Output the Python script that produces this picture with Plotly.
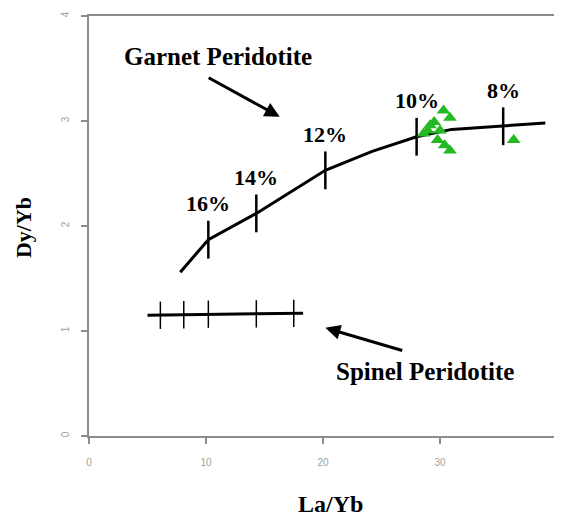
import plotly.graph_objects as go

# ---- data ----
garnet_x = [7.8, 10.2, 14.3, 20.2, 24.2, 28.0, 31.0, 35.4, 39.0]
garnet_y = [1.56, 1.87, 2.12, 2.53, 2.71, 2.85, 2.92, 2.95, 2.98]

melt_labels = ["16%", "14%", "12%", "10%", "8%"]
melt_x = [10.2, 14.3, 20.2, 28.0, 35.4]
melt_y = [1.87, 2.12, 2.53, 2.85, 2.95]

spinel_x = [5.0, 18.3]
spinel_y = [1.15, 1.17]
spinel_tick_x = [6.1, 8.1, 10.2, 14.3, 17.5]
spinel_tick_y = [1.15, 1.155, 1.16, 1.163, 1.167]

sample_x = [30.3, 30.85, 29.5, 28.95, 30.0, 28.6, 29.8, 30.4, 30.85, 29.15, 36.3]
sample_y = [3.10, 3.03, 2.99, 2.91, 2.91, 2.88, 2.82, 2.77, 2.72, 2.96, 2.82]

x_ticks = [0, 10, 20, 30, 40]
y_ticks = [0, 1, 2, 3, 4]

GARNET_TICK = 0.18
SPINEL_TICK = 0.13

def tick_segments(xs, ys, half):
    tx, ty = [], []
    for x, y in zip(xs, ys):
        tx += [x, x, None]
        ty += [y - half, y + half, None]
    return tx, ty

fig = go.Figure()

fig.add_trace(go.Scatter(x=garnet_x, y=garnet_y, mode="lines",
                         line=dict(color="black", width=3), showlegend=False,
                         hoverinfo="skip"))
gtx, gty = tick_segments(melt_x, melt_y, GARNET_TICK)
fig.add_trace(go.Scatter(x=gtx, y=gty, mode="lines",
                         line=dict(color="black", width=2.5), showlegend=False,
                         hoverinfo="skip"))

fig.add_trace(go.Scatter(x=spinel_x, y=spinel_y, mode="lines",
                         line=dict(color="black", width=3), showlegend=False,
                         hoverinfo="skip"))
stx, sty = tick_segments(spinel_tick_x, spinel_tick_y, SPINEL_TICK)
fig.add_trace(go.Scatter(x=stx, y=sty, mode="lines",
                         line=dict(color="black", width=1.5), showlegend=False,
                         hoverinfo="skip"))

fig.add_trace(go.Scatter(x=sample_x, y=sample_y, mode="markers",
                         marker=dict(symbol="triangle-up", size=12, color="#22b922",
                                     line=dict(width=0)),
                         showlegend=False))

serif = "Liberation Serif, Times New Roman, serif"
bold = dict(family=serif, size=22, color="black")
label_font = dict(family=serif, size=25, color="black")

annotations = []
for lab, x, y in zip(melt_labels, melt_x, melt_y):
    annotations.append(dict(x=x, y=y, text="<b>%s</b>" % lab, showarrow=False,
                            xref="x", yref="y", yshift=36, font=bold))

annotations += [
    dict(x=11.0, y=3.61, text="<b>Garnet Peridotite</b>", showarrow=False,
         xref="x", yref="y", font=label_font),
    dict(x=28.7, y=0.61, text="<b>Spinel Peridotite</b>", showarrow=False,
         xref="x", yref="y", font=label_font),
    dict(x=16.3, y=3.04, ax=10.1, ay=3.42, xref="x", yref="y", axref="x", ayref="y",
         showarrow=True, arrowhead=2, arrowsize=1, arrowwidth=3, arrowcolor="black",
         text=""),
    dict(x=20.2, y=1.03, ax=26.9, ay=0.81, xref="x", yref="y", axref="x", ayref="y",
         showarrow=True, arrowhead=2, arrowsize=1, arrowwidth=3, arrowcolor="black",
         text=""),
    dict(x=0.517, y=-0.162, xref="paper", yref="paper", text="<b>La/Yb</b>",
         xanchor="center", yanchor="middle",
         showarrow=False, font=dict(family=serif, size=24, color="black")),
    dict(x=-0.141, y=0.495, xref="paper", yref="paper", text="<b>Dy/Yb</b>",
         xanchor="center", yanchor="middle",
         showarrow=False, textangle=-90,
         font=dict(family=serif, size=22, color="black")),
]

axis_common = dict(showgrid=False, zeroline=False, showline=True, linecolor="#8c8c8c",
                   linewidth=2, mirror=True, ticks="outside", ticklen=6,
                   tickcolor="#8c8c8c", tickwidth=1.5, automargin=False,
                   tickfont=dict(size=10, color="#a0a0a0", family="Arial, sans-serif"))

fig.update_layout(
    width=554, height=510,
    margin=dict(l=81, r=5, t=8, b=82),
    paper_bgcolor="white", plot_bgcolor="white",
    xaxis=dict(range=[0, 40], tickvals=x_ticks, ticktext=[str(v) for v in x_ticks],
               ticklabelstandoff=10, **axis_common),
    yaxis=dict(range=[0, 4], tickvals=y_ticks, ticktext=[str(v) for v in y_ticks],
               tickangle=-90, ticklabelstandoff=8, **axis_common),
    annotations=annotations,
    showlegend=False,
)

fig.write_html("out.html")
